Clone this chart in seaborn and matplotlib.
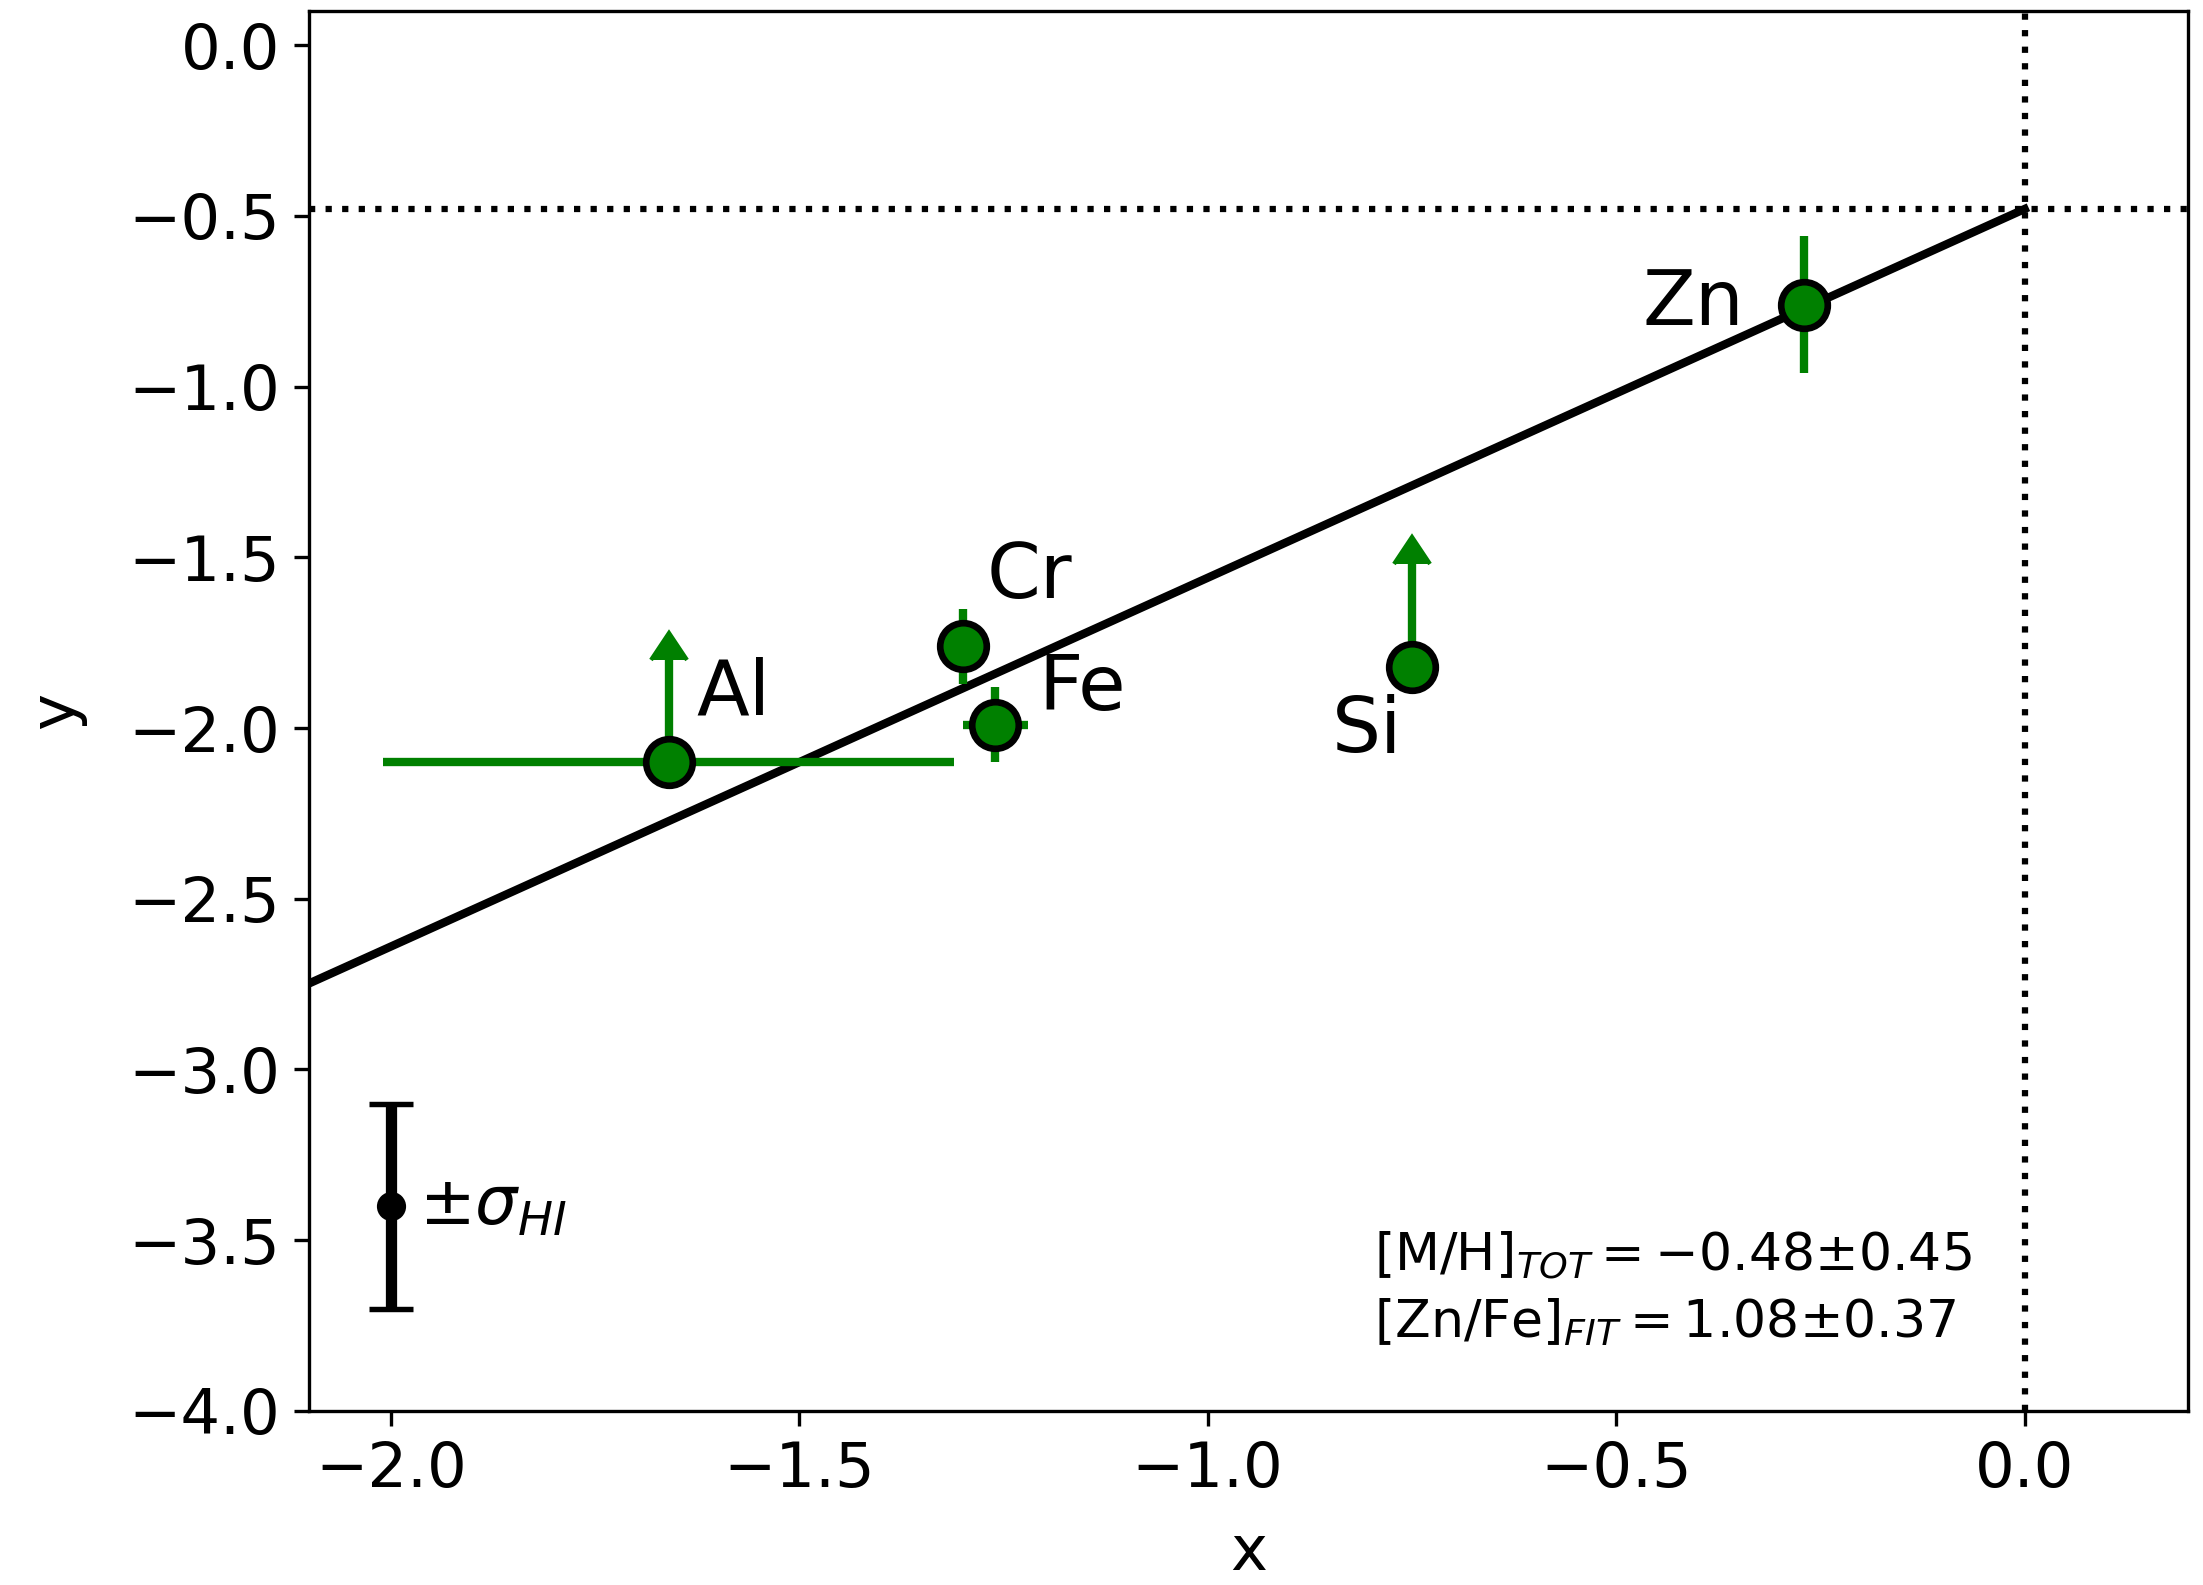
import numpy as np
import pandas as pd
import matplotlib
matplotlib.use("Agg")
import matplotlib.pyplot as plt
import seaborn as sns

# Element abundances
elements = ["Al", "Cr", "Fe", "Si", "Zn"]
x_vals = [-1.66, -1.30, -1.26, -0.75, -0.27]
y_vals = [-2.10, -1.76, -1.99, -1.82, -0.76]
x_errs = [0.35, 0.0, 0.04, 0.0, 0.0]
y_errs = [0.30, 0.11, 0.11, 0.30, 0.20]
lower_limit = [True, False, False, True, False]

# Label positions (data coords, centre of text)
label_x = [-1.58, -1.218, -1.154, -0.805, -0.406]
label_y = [-1.90, -1.557, -1.887, -2.010, -0.758]

# Fit results
mh_tot, mh_err = -0.48, 0.45
znfe_fit, znfe_err = 1.08, 0.37

# Typical HI uncertainty marker
sig_x, sig_y, sig_err = -2.0, -3.4, 0.3

df = pd.DataFrame({"element": elements, "x": x_vals, "y": y_vals,
                   "xerr": x_errs, "yerr": y_errs, "lim": lower_limit})

fig = plt.figure(figsize=(2203 / 300, 1585 / 300), dpi=300)
ax = fig.add_axes([0.1403, 0.1098, 0.9932 - 0.1403, 0.9931 - 0.1098])

xlim = (-2.1, 0.2)
ylim = (-4.0, 0.1)

# Reference lines at the fit's zero-point
ax.axhline(mh_tot, color="black", ls=":", lw=1.5, zorder=1)
ax.axvline(0.0, color="black", ls=":", lw=1.5, zorder=1)

# Linear fit: y = [M/H]_TOT + [Zn/Fe]_FIT * x
fit = pd.DataFrame({"x": [xlim[0], 0.0]})
fit["y"] = mh_tot + znfe_fit * fit["x"]
sns.lineplot(data=fit, x="x", y="y", color="black", lw=2, ax=ax, zorder=2)

green = "green"
# horizontal error bars
hx = df[df["xerr"] > 0]
ax.errorbar(hx["x"], hx["y"], xerr=hx["xerr"], fmt="none", ecolor=green,
            color=green, elinewidth=2, capsize=0, zorder=2)
# measured values
meas = df[~df["lim"]]
ax.errorbar(meas["x"], meas["y"], yerr=meas["yerr"], fmt="none", ecolor=green,
            color=green, elinewidth=2, capsize=0, zorder=2)
# lower limits
lims = df[df["lim"]]
ax.errorbar(lims["x"], lims["y"], yerr=lims["yerr"], lolims=True, fmt="none",
            ecolor=green, color=green, elinewidth=2, capsize=4.4, zorder=2)

sns.scatterplot(data=df, x="x", y="y", color=green, s=125, edgecolor="black",
                linewidth=1.6, ax=ax, zorder=3, legend=False)

for el, lx, ly in zip(elements, label_x, label_y):
    ax.text(lx, ly, el, fontsize=18.5, ha="center", va="center")

# typical uncertainty bar
ax.errorbar(sig_x, sig_y, yerr=sig_err, fmt="o", color="black", ms=6,
            elinewidth=2.7, capsize=5.2, capthick=1.3, zorder=3)
ax.text(sig_x + 0.034, sig_y, r"$\pm\sigma_{HI}$", fontsize=16,
        ha="left", va="center")

ax.text(0.567, 0.111,
        r"$[\mathrm{M/H}]_{TOT} = %.2f{\pm}%.2f$" % (mh_tot, mh_err),
        transform=ax.transAxes, fontsize=12.5, ha="left", va="center")
ax.text(0.567, 0.063,
        r"$[\mathrm{Zn/Fe}]_{FIT} = %.2f{\pm}%.2f$" % (znfe_fit, znfe_err),
        transform=ax.transAxes, fontsize=12.5, ha="left", va="center")

ax.set_xlim(*xlim)
ax.set_ylim(*ylim)
ax.set_xticks(np.arange(-2.0, 0.01, 0.5))
ax.set_yticks(np.arange(-4.0, 0.01, 0.5))
ax.tick_params(labelsize=15)
ax.set_xlabel("x", fontsize=15, labelpad=5.5)
ax.set_ylabel("y", fontsize=15, labelpad=10)

fig.savefig("out.png", dpi=300)
